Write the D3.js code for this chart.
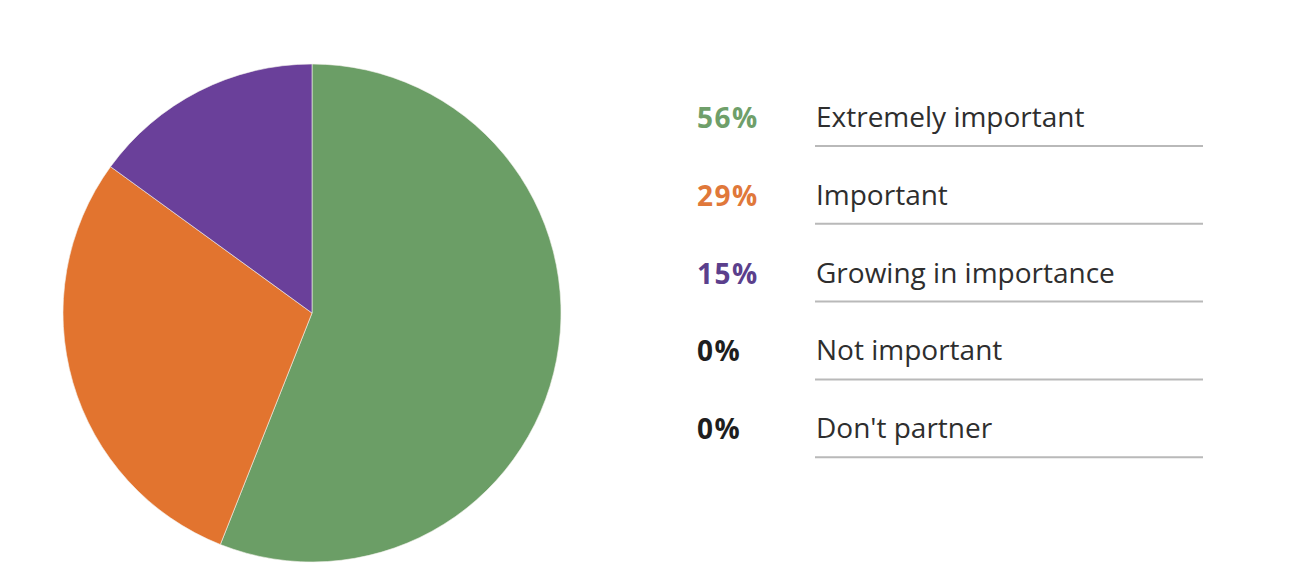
<!DOCTYPE html>
<html>
<head>
<meta charset="utf-8">
<script src="https://cdn.jsdelivr.net/npm/d3@7"></script>
<style>
  html, body { margin: 0; padding: 0; background: #fff; }
  svg { display: block; font-family: "Open Sans", "Noto Sans", sans-serif; }
</style>
</head>
<body>
<div id="chart"></div>
<script>
const categories = ["Extremely important", "Important", "Growing in importance", "Not important", "Don't partner"];
const shares = [56, 29, 15, 0, 0];
const sliceColors = ["#6b9e66", "#e2742f", "#6a409a", "#222222", "#222222"];
const labelColors = ["#6f9f6a", "#e0783a", "#5b3f8c", "#1e1e1e", "#1e1e1e"];

const width = 1301, height = 575;
const svg = d3.select("#chart").append("svg")
    .attr("width", width)
    .attr("height", height);

// pie
const cx = 312, cy = 313, radius = 249;
const data = categories.map((c, i) => ({ label: c, value: shares[i], color: sliceColors[i], text: labelColors[i] }));
const pie = d3.pie().value(d => d.value).sort(null);
const arc = d3.arc().innerRadius(0).outerRadius(radius);

svg.append("g")
    .attr("transform", `translate(${cx},${cy})`)
    .selectAll("path")
    .data(pie(data).filter(d => d.data.value > 0))
    .enter().append("path")
    .attr("d", arc)
    .attr("fill", d => d.data.color)
    .attr("stroke", "#f4f1ec")
    .attr("stroke-width", 0.6);

// legend rows
const y = d3.scaleBand().domain(categories).range([90, 479]).paddingInner(0);
const pctX = 697, labelX = 816, lineEnd = 1203;

const rows = svg.append("g").selectAll("g")
    .data(data)
    .enter().append("g")
    .attr("transform", d => `translate(0,${y(d.label)})`);

rows.append("text")
    .attr("x", pctX)
    .attr("y", 38)
    .attr("font-size", 28)
    .attr("font-weight", 700)
    .attr("letter-spacing", 1.5)
    .attr("fill", d => d.text)
    .text(d => `${d.value}%`);

rows.append("text")
    .attr("x", labelX)
    .attr("y", 37)
    .attr("font-size", 28)
    .attr("fill", "#2e2e2e")
    .text(d => d.label);

rows.append("line")
    .attr("x1", labelX - 1)
    .attr("x2", lineEnd)
    .attr("y1", 56)
    .attr("y2", 56)
    .attr("stroke", "#b9b9b9")
    .attr("stroke-width", 2);
</script>
</body>
</html>
